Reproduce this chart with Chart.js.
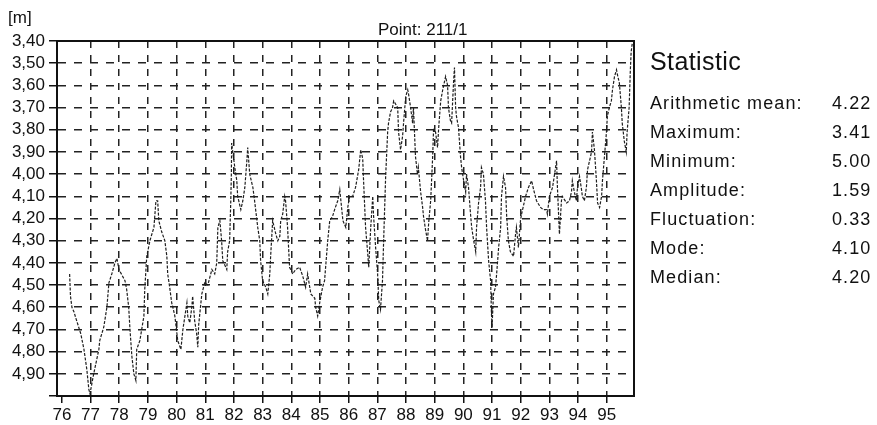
<!DOCTYPE html>
<html>
<head>
<meta charset="utf-8">
<script src="https://cdn.jsdelivr.net/npm/chart.js@4.4.1/dist/chart.umd.min.js"></script>
<style>
  html, body { margin: 0; padding: 0; background: #fff; }
  #wrap { position: relative; width: 877px; height: 425px; font-family: "Liberation Sans", Arial, sans-serif; color: #111; }
  #myChart { position: absolute; left: 0; top: 0; }
  .txt { position: absolute; white-space: nowrap; line-height: 1; }
  .row { position: absolute; left: 650px; font-size: 18px; letter-spacing: 1.1px; }
  .val { position: absolute; left: 832px; font-size: 18px; letter-spacing: 1.1px; }
</style>
</head>
<body>
<div id="wrap">
  <canvas id="myChart" width="877" height="425"></canvas>
  <div class="txt" style="left:8px;top:9px;font-size:17px;">[m]</div>
  <div class="txt" id="title" style="left:378px;top:21px;font-size:17px;">Point: 211/1</div>
  <div class="txt" style="left:650px;top:49px;font-size:25px;letter-spacing:0.4px;">Statistic</div>
  <div id="stats"></div>
</div>
<script>
// groundwater level [m], year (19xx) vs depth
const years = [
  76.27, 76.30, 76.35, 76.42, 76.49, 76.66, 76.77, 76.87, 76.94, 76.98,
  77.11, 77.29, 77.32, 77.46, 77.57, 77.64, 77.74, 77.85, 77.92, 77.99,
  78.20, 78.26, 78.33, 78.37, 78.44, 78.51, 78.58, 78.61, 78.72, 78.86,
  78.89, 78.96, 79.07, 79.21, 79.28, 79.34, 79.38, 79.48, 79.59, 79.66,
  79.69, 79.76, 79.83, 79.87, 79.94, 80.04, 80.15, 80.22, 80.36, 80.39,
  80.46, 80.53, 80.56, 80.63, 80.70, 80.74, 80.77, 80.88, 80.98, 81.09,
  81.23, 81.33, 81.40, 81.44, 81.51, 81.57, 81.61, 81.75, 81.78, 81.85,
  81.89, 81.91, 81.92, 81.96, 82.03, 82.10, 82.13, 82.24, 82.31, 82.38,
  82.45, 82.48, 82.55, 82.66, 82.72, 82.83, 82.90, 82.93, 83.00, 83.11,
  83.18, 83.25, 83.28, 83.35, 83.46, 83.53, 83.60, 83.63, 83.70, 83.77,
  83.80, 83.87, 83.94, 84.05, 84.15, 84.29, 84.40, 84.50, 84.57, 84.68,
  84.82, 84.85, 84.92, 84.99, 85.09, 85.16, 85.27, 85.34, 85.44, 85.51,
  85.62, 85.69, 85.80, 85.90, 85.97, 86.03, 86.14, 86.24, 86.35, 86.42,
  86.49, 86.52, 86.59, 86.66, 86.70, 86.77, 86.84, 86.87, 86.94, 87.01,
  87.05, 87.11, 87.18, 87.22, 87.29, 87.36, 87.39, 87.46, 87.53, 87.57,
  87.71, 87.74, 87.81, 87.88, 87.92, 87.99, 88.06, 88.09, 88.16, 88.23,
  88.26, 88.33, 88.40, 88.43, 88.51, 88.58, 88.61, 88.68, 88.75, 88.79,
  88.86, 88.93, 88.96, 89.03, 89.10, 89.14, 89.21, 89.28, 89.38, 89.45,
  89.48, 89.55, 89.59, 89.66, 89.69, 89.73, 89.76, 89.83, 89.90, 89.94,
  90.01, 90.08, 90.11, 90.18, 90.25, 90.29, 90.36, 90.43, 90.46, 90.53,
  90.60, 90.63, 90.70, 90.77, 90.81, 90.88, 90.95, 90.98, 91.00, 91.05,
  91.12, 91.16, 91.23, 91.30, 91.33, 91.40, 91.47, 91.51, 91.57, 91.64,
  91.75, 91.82, 91.85, 91.92, 91.99, 92.03, 92.17, 92.27, 92.38, 92.45,
  92.55, 92.69, 92.79, 92.90, 92.93, 93.00, 93.11, 93.18, 93.25, 93.28,
  93.35, 93.42, 93.45, 93.60, 93.70, 93.77, 93.80, 93.87, 93.94, 93.98,
  94.05, 94.12, 94.15, 94.22, 94.29, 94.33, 94.47, 94.50, 94.57, 94.64,
  94.68, 94.75, 94.82, 94.85, 94.92, 94.99, 95.02, 95.09, 95.16, 95.20,
  95.27, 95.34, 95.37, 95.44, 95.51, 95.54, 95.61, 95.68, 95.71, 95.78,
  95.82, 95.85, 95.89
];
const levels = [
  4.45, 4.55, 4.60, 4.62, 4.65, 4.72, 4.79, 4.88, 4.97, 4.99,
  4.90, 4.79, 4.75, 4.69, 4.60, 4.49, 4.45, 4.40, 4.38, 4.43,
  4.48, 4.52, 4.60, 4.69, 4.82, 4.90, 4.93, 4.79, 4.75, 4.64,
  4.52, 4.37, 4.30, 4.24, 4.12, 4.12, 4.21, 4.26, 4.30, 4.37,
  4.45, 4.51, 4.58, 4.60, 4.64, 4.75, 4.79, 4.70, 4.58, 4.64,
  4.67, 4.60, 4.55, 4.66, 4.72, 4.78, 4.68, 4.54, 4.49, 4.50,
  4.43, 4.45, 4.40, 4.24, 4.21, 4.30, 4.39, 4.43, 4.35, 4.30,
  4.12, 4.00, 3.86, 3.90, 3.97, 4.03, 4.10, 4.16, 4.12, 4.06,
  3.94, 3.88, 4.00, 4.06, 4.12, 4.24, 4.30, 4.39, 4.48, 4.51,
  4.54, 4.45, 4.37, 4.21, 4.27, 4.30, 4.28, 4.21, 4.18, 4.10,
  4.12, 4.24, 4.42, 4.45, 4.43, 4.42, 4.46, 4.51, 4.45, 4.54,
  4.56, 4.60, 4.64, 4.58, 4.51, 4.48, 4.30, 4.21, 4.19, 4.16,
  4.12, 4.07, 4.21, 4.24, 4.15, 4.10, 4.10, 4.06, 3.98, 3.89,
  3.93, 4.03, 4.24, 4.35, 4.42, 4.24, 4.10, 4.19, 4.33, 4.45,
  4.57, 4.61, 4.48, 4.30, 4.01, 3.81, 3.77, 3.72, 3.70, 3.67,
  3.70, 3.81, 3.89, 3.83, 3.76, 3.65, 3.62, 3.64, 3.70, 3.77,
  3.70, 3.92, 4.00, 3.97, 4.08, 4.15, 4.19, 4.25, 4.30, 4.22,
  4.12, 3.92, 3.80, 3.81, 3.88, 3.79, 3.67, 3.62, 3.56, 3.60,
  3.70, 3.76, 3.77, 3.58, 3.52, 3.70, 3.74, 3.79, 3.92, 3.97,
  4.03, 4.08, 4.00, 4.06, 4.18, 4.24, 4.30, 4.35, 4.24, 4.13,
  4.06, 3.97, 4.00, 4.12, 4.24, 4.39, 4.48, 4.63, 4.69, 4.54,
  4.51, 4.45, 4.33, 4.24, 4.10, 4.01, 4.06, 4.19, 4.30, 4.35,
  4.37, 4.27, 4.24, 4.33, 4.21, 4.18, 4.10, 4.06, 4.03, 4.07,
  4.12, 4.15, 4.16, 4.16, 4.18, 4.10, 4.06, 4.00, 3.94, 4.06,
  4.27, 4.12, 4.10, 4.13, 4.12, 4.08, 4.03, 4.08, 4.12, 4.06,
  4.01, 4.07, 4.10, 4.12, 4.06, 3.98, 3.90, 3.81, 3.89, 4.03,
  4.13, 4.15, 4.10, 4.03, 3.92, 3.81, 3.74, 3.70, 3.67, 3.62,
  3.56, 3.53, 3.55, 3.59, 3.70, 3.77, 3.85, 3.90, 3.81, 3.70,
  3.54, 3.45, 3.41
];
const xTicks = [76, 77, 78, 79, 80, 81, 82, 83, 84, 85, 86, 87, 88, 89, 90, 91, 92, 93, 94, 95];
const yTicks = [3.4, 3.5, 3.6, 3.7, 3.8, 3.9, 4.0, 4.1, 4.2, 4.3, 4.4, 4.5, 4.6, 4.7, 4.8, 4.9, 5.0];
const statNames = ["Arithmetic mean:", "Maximum:", "Minimum:", "Amplitude:", "Fluctuation:", "Mode:", "Median:"];
const statValues = ["4.22", "3.41", "5.00", "1.59", "0.33", "4.10", "4.20"];

// statistic panel
const stats = document.getElementById('stats');
statNames.forEach((name, i) => {
  const top = 94 + i * 29;
  stats.insertAdjacentHTML('beforeend',
    `<div class="txt row" style="top:${top}px">${name}</div><div class="txt val" style="top:${top}px">${statValues[i]}</div>`);
});

const frame = {
  id: 'frame',
  afterDatasetsDraw(chart) {
    const a = chart.chartArea, ctx = chart.ctx;
    ctx.save();
    ctx.strokeStyle = '#111';
    ctx.lineWidth = 2;
    ctx.strokeRect(a.left, a.top, a.right - a.left, a.bottom - a.top);
    ctx.restore();
  }
};

const tickFont = { family: "'Liberation Sans', Arial, sans-serif", size: 17 };

new Chart(document.getElementById('myChart'), {
  type: 'line',
  data: {
    datasets: [{
      data: years.map((x, i) => ({ x: x, y: levels[i] })),
      borderColor: '#1e1e1e',
      borderWidth: 1.2,
      borderDash: [3, 1.5],
      pointRadius: 0,
      tension: 0,
      fill: false
    }]
  },
  plugins: [frame],
  options: {
    responsive: false,
    animation: false,
    events: [],
    layout: { padding: { top: 41, right: 243, left: 0, bottom: 0 } },
    plugins: { legend: { display: false }, tooltip: { enabled: false }, title: { display: false } },
    scales: {
      x: {
        type: 'linear',
        min: 75.83,
        max: 95.95,
        afterBuildTicks: s => { s.ticks = xTicks.map(v => ({ value: v })); },
        afterFit: s => { s.height = 29; },
        ticks: { color: '#111', font: tickFont, padding: 2, maxRotation: 0, autoSkip: false,
                 callback: v => String(v) },
        grid: {
          color: c => (c.tick && c.tick.value === 76) ? 'rgba(0,0,0,0)' : '#222',
          lineWidth: 1.5,
          tickColor: '#111',
          tickLength: 7,
          drawTicks: true
        },
        border: { display: true, color: '#111', width: 2, dash: [7, 7] }
      },
      y: {
        reverse: true,
        min: 3.4,
        max: 5.0,
        afterBuildTicks: s => { s.ticks = yTicks.map(v => ({ value: v })); },
        afterFit: s => { s.width = 57; },
        ticks: { color: '#111', font: tickFont, padding: 4, autoSkip: false,
                 callback: v => v >= 4.995 ? '' : v.toFixed(2).replace('.', ',') },
        grid: {
          color: '#222',
          lineWidth: 1.5,
          tickColor: '#111',
          tickLength: 8,
          drawTicks: true
        },
        border: { display: true, color: '#111', width: 2, dash: [8, 8] }
      }
    }
  }
});
</script>
</body>
</html>
